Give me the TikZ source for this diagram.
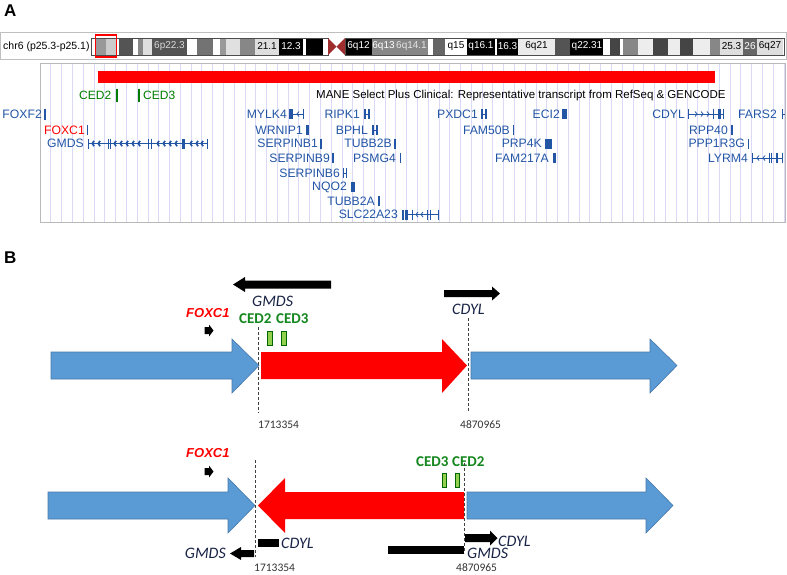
\documentclass[tikz,border=0pt]{standalone}
\usepackage{fontspec}
\setmainfont{Liberation Sans}
\newfontfamily\calfont{Carlito}
\definecolor{gblue}{RGB}{35,85,165}
\definecolor{gridc}{RGB}{218,218,248}
\definecolor{cedA}{RGB}{0,125,0}
\definecolor{cedB}{RGB}{20,135,30}
\definecolor{arrblue}{RGB}{91,155,213}
\definecolor{arrblueline}{RGB}{70,120,170}
\definecolor{navy}{RGB}{25,35,70}
\definecolor{boxgreen}{RGB}{146,208,80}
\definecolor{centro}{RGB}{160,45,45}
\newcommand\chevL[2]{\draw[gl] ({#1+2},{#2-2.5}) -- (#1,#2) -- ({#1+2},{#2+2.5});}
\newcommand\chevR[2]{\draw[gl] ({#1-2},{#2-2.5}) -- (#1,#2) -- ({#1-2},{#2+2.5});}
\newcommand\gtick[2]{\draw[gl] (#1,{#2-5}) -- (#1,{#2+5});}
\newcommand\gexon[3]{\fill[gblue] (#1,{#3-5}) rectangle (#2,{#3+5});}
\begin{document}
\begin{tikzpicture}[x=1pt,y=-1pt,
  lbl/.style={font=\bfseries\fontsize{17}{17}\selectfont, inner sep=0, anchor=west},
  chr/.style={font=\fontsize{10.5}{10.5}\selectfont, inner sep=0, anchor=west},
  bandlbl/.style={font=\fontsize{10}{10}\selectfont, inner sep=0},
  gene/.style={font=\fontsize{12.2}{12.2}\selectfont, text=gblue, inner sep=0, anchor=east},
  cedAlbl/.style={font=\fontsize{12}{12}\selectfont, text=cedA, inner sep=0, anchor=west},
  mane/.style={font=\fontsize{11.5}{11.5}\selectfont, inner sep=0, anchor=west},
  gl/.style={draw=gblue, line width=0.8},
  gname/.style={font=\calfont\itshape\fontsize{16}{16}\selectfont, text=navy, inner sep=0, anchor=west},
  fox/.style={font=\bfseries\itshape\fontsize{13}{13}\selectfont, text=red, inner sep=0, anchor=west},
  cedBlbl/.style={font=\calfont\bfseries\fontsize{15}{15}\selectfont, text=cedB, inner sep=0, anchor=west},
  posnum/.style={font=\calfont\fontsize{11.5}{11.5}\selectfont, text=black!80, inner sep=0, anchor=west},
  barrow/.style={fill=arrblue, draw=arrblueline, line width=0.6},
  rarrow/.style={fill=red},
  karrow/.style={fill=black},
  gbox/.style={fill=boxgreen, draw=black!60!green, line width=0.7},
  bline/.style={dashed, dash pattern=on 3pt off 2pt, black!75, line width=0.7}]
\useasboundingbox (0,0) rectangle (787,574);
\fill[white] (0,0) rectangle (787,574);

%% ---------------- Panel A ----------------
\node[lbl] (A) at (4,11) {A};
\draw[gray!50, line width=0.8] (0.5,32) rectangle (786.5,59.5);
\node[chr] (chr) at (3,47) {chr6 (p25.3-p25.1)};
\fill[white] (91,38) rectangle (784,55);
\foreach \a/\b/\c in {96/106/black!40, 106/116/black!20, 119/133/black!67, 138/143/black!47,
  143/152/black!13, 152/187/black!67, 197/213/black!55, 220/226/black!40, 226/240/black!12,
  240/255/black!47, 255/279/black!13, 279/303/black, 306/323/black, 345/372/black,
  372/395/black!47, 395/428/black!47, 433/445/black!60, 467/495/black, 497/518/black,
  518/555/black!8, 555/570/black!67, 570/603/black, 610/620/black!73, 623/638/black!47,
  638/653/black!7, 653/668/black!73, 668/680/black!7, 680/693/black!73, 693/710/black!7,
  710/720/black!47, 720/743/black!13, 743/757/black!60, 757/783/black!13}
  \fill[\c] (\a,38) rectangle (\b,55);
\draw[black!70, line width=0.6] (91,38) rectangle (328,55);
\draw[black!70, line width=0.6] (345,38) rectangle (784,55);
\fill[centro] (328,38) -- (336.5,46.5) -- (328,55) -- cycle;
\fill[centro] (345,38) -- (336.5,46.5) -- (345,55) -- cycle;
\node[bandlbl, text=black!15] (b1) at (169.5,46.5) {6p22.3};
\node[bandlbl, text=black] (b2) at (267,46.5) {21.1};
\node[bandlbl, text=white] (b3) at (291,46.5) {12.3};
\node[bandlbl, text=white] (b4) at (358.5,46.5) {6q12};
\node[bandlbl, text=white] (b5) at (383.5,46.5) {6q13};
\node[bandlbl, text=black!10] (b6) at (411.5,46.5) {6q14.1};
\node[bandlbl, text=black] (b7) at (456,46.5) {q15};
\node[bandlbl, text=white] (b8) at (481,46.5) {q16.1};
\node[bandlbl, text=white] (b9) at (507.5,46.5) {16.3};
\node[bandlbl, text=black] (b10) at (536.5,46.5) {6q21};
\node[bandlbl, text=white] (b11) at (587,46.5) {q22.31};
\node[bandlbl, text=black] (b12) at (731.5,46.5) {25.3};
\node[bandlbl, text=white] (b13) at (750,46.5) {26};
\node[bandlbl, text=black] (b14) at (770,46.5) {6q27};
\draw[red, line width=1.3] (95.5,35) rectangle (116.5,57);

% track area
\foreach \i in {1,...,69} \draw[gridc, line width=0.6] ({40+\i*10.78},64) -- ({40+\i*10.78},221.5);
\draw[gray!55, line width=0.8] (40,63) rectangle (785,222);
\fill[red] (98,71) rectangle (715,83);
\node[cedAlbl] (ced2a) at (79,95.5) {CED2};
\fill[cedA] (115.5,89) rectangle (118,102);
\fill[cedA] (137.5,89) rectangle (140,102);
\node[cedAlbl] (ced3a) at (143,95.5) {CED3};
\node[mane] (mane) at (316,95.5) {MANE Select Plus Clinical: Representative transcript from RefSeq \& GENCODE};

% gene labels
\node[gene] (foxf2) at (42,114) {FOXF2};
\node[gene, text=red] (foxc1a) at (85,130) {FOXC1};
\node[gene] (gmdsa) at (84,143.5) {GMDS};
\node[gene] (mylk4) at (287,114) {MYLK4};
\node[gene] (wrnip1) at (303,130) {WRNIP1};
\node[gene] (serpinb1) at (318,143.5) {SERPINB1};
\node[gene] (ripk1) at (360,114) {RIPK1};
\node[gene] (bphl) at (368,130) {BPHL};
\node[gene] (tubb2b) at (392,143.5) {TUBB2B};
\node[gene] (serpinb9) at (330,158) {SERPINB9};
\node[gene] (psmg4) at (396,158) {PSMG4};
\node[gene] (serpinb6) at (340,173) {SERPINB6};
\node[gene] (nqo2) at (347,187) {NQO2};
\node[gene] (tubb2a) at (375,201) {TUBB2A};
\node[gene] (slc22a23) at (398,214.5) {SLC22A23};
\node[gene] (pxdc1) at (478,114) {PXDC1};
\node[gene] (eci2) at (560,114) {ECI2};
\node[gene] (cdyla) at (685,114) {CDYL};
\node[gene] (fars2) at (777,114) {FARS2};
\node[gene] (fam50b) at (510,130) {FAM50B};
\node[gene] (rpp40) at (728,130) {RPP40};
\node[gene] (prp4k) at (542,143.5) {PRP4K};
\node[gene] (ppp1r3g) at (745,143.5) {PPP1R3G};
\node[gene] (fam217a) at (549,158) {FAM217A};
\node[gene] (lyrm4) at (748,158) {LYRM4};

% gene glyphs
\draw[gl, line width=1.4] (45,108.5) -- (45,119.5);
\draw[gl] (87,125) -- (87,135);
% GMDS
\draw[gl] (88,143.5) -- (207,143.5);
\foreach \x in {88,108,110,148,151,207} \gtick{\x}{143.5}
\gexon{182}{184.5}{143.5}
\foreach \x in {92,98,114,120,126,132,138,157,163,169,175,190,196,201} \chevL{\x}{143.5}
% MYLK4
\gexon{289}{293}{114} \draw[gl] (293,114) -- (303,114); \chevL{297}{114} \gtick{303}{114}
% WRNIP1
\gexon{305.5}{309}{130}
% SERPINB1
\draw[gl, line width=1.4] (321,138.5) -- (321,148.5);
% RIPK1
\gexon{364}{366}{114} \gexon{368}{370}{114} \draw[gl] (366,114) -- (368,114);
% BPHL
\gexon{372}{374}{130} \gexon{376}{378}{130} \draw[gl] (374,130) -- (376,130);
% TUBB2B
\draw[gl, line width=1.2] (395,138.5) -- (395,148.5);
% SERPINB9
\gexon{331.5}{334}{158}
% PSMG4
\draw[gl, line width=1.4] (400.5,153) -- (400.5,163);
% SERPINB6
\gtick{343}{173} \gtick{346}{173} \draw[gl] (343,173) -- (346,173);
% NQO2
\gexon{351}{354.5}{187}
% TUBB2A
\draw[gl, line width=1.2] (379,196) -- (379,206);
% SLC22A23
\gexon{402}{404}{214.5} \gexon{405}{407.5}{214.5}
\draw[gl] (407.5,214.5) -- (438,214.5);
\gtick{412}{214.5} \chevL{416}{214.5} \chevL{421}{214.5} \gtick{427}{214.5} \gtick{430}{214.5} \gtick{438}{214.5}
% PXDC1
\gexon{481}{483}{114} \gexon{485}{487}{114} \draw[gl] (483,114) -- (485,114);
% ECI2
\gexon{562}{567}{114}
% CDYL
\draw[gl] (688,114) -- (723,114); \gtick{688}{114}
\chevR{697}{114} \chevR{703}{114} \chevR{709}{114} \gtick{713}{114}
\gexon{718}{721}{114} \gtick{723}{114}
% FARS2
\gtick{782}{114} \draw[gl] (782,114) -- (785,114);
% FAM50B
\gtick{513.5}{130}
% RPP40
\gexon{730.5}{733}{130}
% PRP4K
\gexon{545}{552}{143.5}
% PPP1R3G
\gtick{748.5}{143.5}
% FAM217A
\gexon{552.5}{555.5}{158}
% LYRM4
\draw[gl] (752,158) -- (782,158); \gtick{752}{158}
\chevL{757}{158} \chevL{763}{158} \gtick{769}{158} \gtick{771.5}{158}
\draw[gl, line width=1.4] (777,153) -- (777,163); \gtick{782}{158}

%% ---------------- Panel B ----------------
\node[lbl] (B) at (4,258) {B};

% --- top row ---
\fill[karrow] (233,284.5) -- (245,277) -- (245,280.5) -- (331,280.5) -- (331,288.5) -- (245,288.5) -- (245,292) -- cycle;
\node[gname] (gmdst) at (252,301) {GMDS};
\fill[karrow] (444,290) -- (492,290) -- (492,286.5) -- (500,293.5) -- (492,300.5) -- (492,297) -- (444,297) -- cycle;
\node[gname] (cdylt) at (452,309) {CDYL};
\node[fox] (foxt) at (186,313) {FOXC1};
\fill[karrow] (204.5,327) -- (209,327) -- (209,324.5) -- (213.5,330.5) -- (209,336.5) -- (209,334) -- (204.5,334) -- cycle;
\node[cedBlbl] (ced2t) at (239,319) {CED2};
\node[cedBlbl] (ced3t) at (276,319) {CED3};
\draw[gbox] (267,331) rectangle (272,345);
\draw[gbox] (281,331) rectangle (286,345);

\path[barrow] (51,352) -- (232,352) -- (232,339) -- (259,365.5) -- (232,393) -- (232,379) -- (51,379) -- cycle;
\path[rarrow] (261,352) -- (442,352) -- (442,339) -- (467,365.5) -- (442,393) -- (442,379) -- (261,379) -- cycle;
\path[barrow] (471,352) -- (650,352) -- (650,339) -- (677,365.5) -- (650,393) -- (650,379) -- (471,379) -- cycle;
\coordinate (d1a) at (258,327); \coordinate (d1b) at (258,413);
\coordinate (d2a) at (468,318); \coordinate (d2b) at (468,412);
\draw[bline] (d1a) -- (d1b);
\draw[bline] (d2a) -- (d2b);
\node[posnum] (p1t) at (258,425) {1713354};
\node[posnum] (p2t) at (460,425) {4870965};

% --- bottom row ---
\node[fox] (foxb) at (186,453) {FOXC1};
\fill[karrow] (204.5,468) -- (209,468) -- (209,465.5) -- (213.5,471.5) -- (209,477.5) -- (209,475) -- (204.5,475) -- cycle;
\node[cedBlbl] (ced3b) at (416,462) {CED3};
\node[cedBlbl] (ced2b) at (452,462) {CED2};
\draw[gbox] (442,473) rectangle (446.5,487);
\draw[gbox] (455,473) rectangle (459.5,487);

\path[barrow] (48,492) -- (228,492) -- (228,478) -- (255,505.5) -- (228,533) -- (228,519) -- (48,519) -- cycle;
\path[rarrow] (258,505.5) -- (285,478) -- (285,492) -- (464,492) -- (464,519) -- (285,519) -- (285,533) -- cycle;
\path[barrow] (467,492) -- (646,492) -- (646,478) -- (673,505.5) -- (646,533) -- (646,519) -- (467,519) -- cycle;
\coordinate (d3a) at (255,460); \coordinate (d3b) at (255,557);
\coordinate (d4a) at (464,463); \coordinate (d4b) at (464,553);
\draw[bline] (d3a) -- (d3b);
\draw[bline] (d4a) -- (d4b);

\fill[karrow] (258,539) rectangle (279,547);
\node[gname] (cdylb1) at (281,543) {CDYL};
\fill[karrow] (230,553.5) -- (241,547) -- (241,550) -- (254,550) -- (254,557) -- (241,557) -- (241,560) -- cycle;
\node[gname, anchor=east] (gmdsb1) at (226,553) {GMDS};
\node[posnum] (p1b) at (254,568) {1713354};

\fill[karrow] (388,546) rectangle (464,554);
\fill[karrow] (465,534) -- (490,534) -- (490,530.5) -- (497.5,538) -- (490,545.5) -- (490,542) -- (465,542) -- cycle;
\node[gname] (cdylb2) at (498,541) {CDYL};
\node[gname] (gmdsb2) at (467,553) {GMDS};
\node[posnum] (p2b) at (456,568) {4870965};
\end{tikzpicture}
\end{document}
